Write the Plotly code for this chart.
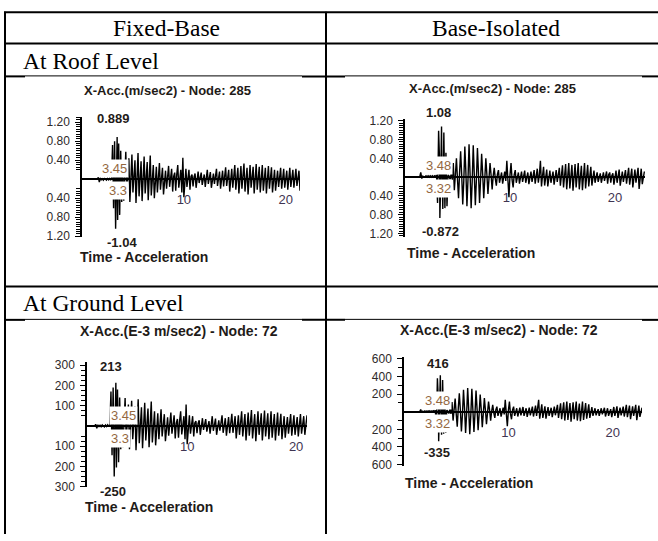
import plotly.graph_objects as go

W, H = 658, 541
DT = 0.1  # sampling step of the plotted histories, s

# ---- Roof level, fixed base: X-Acc. (m/sec2), node 285, t = 0.0 ... 21.4 s
roof_fixed_acc = [
    0, 0, 0, 0, 0, 0, 0, 0, 0, 0,
    0, 0, 0, 0, 0, 0, 0.04, -0.06, 0.03, -0.02,
    0.01, -0.02, 0.02, 0, -0.02, 0.02, -0.01, 0.02, -0.02, 0.03,
    0.72, -0.61, 0.80, -1.04, -0.15, -0.86, 0.75, -0.75, 0.60, -0.48,
    0.22, -0.45, 0.15, 0.58, -0.30, 0.08, 0.44, -0.48, 0.20, 0.52,
    -0.28, 0.12, 0.40, -0.50, 0.05, 0.55, -0.36, 0.18, 0.38, -0.46,
    0.10, 0.48, -0.30, 0.02, 0.36, -0.44, 0.12, 0.50, -0.34, 0.06,
    0.30, -0.40, 0.10, 0.26, -0.28, 0.02, 0.34, -0.22, 0.12, 0.24,
    -0.32, 0.04, 0.18, -0.20, 0.10, 0.28, -0.16, 0.02, 0.22, -0.26,
    0.06, 0.14, -0.24, 0.10, 0.30, -0.18, 0.05, 0.20, -0.28, 0.45,
    -0.38, 0.08, 0.22, -0.16, 0.02, 0.20, -0.22, 0.06, 0.10, -0.15,
    0.05, 0.12, -0.18, 0.03, 0.16, -0.08, 0.06, 0.14, -0.12, 0.02,
    0.10, -0.16, 0.05, 0.20, -0.10, 0.02, 0.15, -0.18, 0.04, 0.12,
    -0.10, 0.06, 0.22, -0.14, 0.02, 0.16, -0.20, 0.08, 0.18, -0.15,
    0.06, 0.25, -0.14, 0.03, 0.20, -0.26, 0.08, 0.22, -0.18, 0.05,
    0.30, -0.22, 0.04, 0.24, -0.30, 0.10, 0.28, -0.20, 0.02, 0.33,
    -0.26, 0.08, 0.24, -0.32, 0.05, 0.30, -0.18, 0.10, 0.26, -0.30,
    0.02, 0.32, -0.22, 0.08, 0.26, -0.28, 0.04, 0.30, -0.24, 0.06,
    0.24, -0.30, 0.10, 0.28, -0.20, 0.04, 0.25, -0.28, 0.08, 0.20,
    -0.24, 0.06, 0.18, -0.16, 0.10, 0.24, -0.20, 0.03, 0.22, -0.18,
    0.08, 0.18, -0.22, 0.04, 0.24, -0.16, 0.06, 0.20, -0.18, 0.10,
    0.22, -0.14, 0.06, 0.18, -0.24,
]
roof_fixed_max = (3.45, 0.889)
roof_fixed_min = (3.3, -1.04)

# ---- Roof level, base isolated: X-Acc. (m/sec2), node 285, t = 0.0 ... 22.8 s
roof_iso_acc = [
    0, 0, 0, 0, 0, 0, 0, 0, 0, 0,
    0, 0, 0, 0, 0, 0.10, -0.03, 0.02, 0, 0.01,
    0.03, 0, 0.03, 0, 0.03, 0, 0.03, 0, 0.03, 0.01,
    0.05, -0.55, 0.99, 0.30, -0.10, 0.50, -0.68, 0.95, -0.66, 0.52,
    -0.62, 0.05, 0.02, -0.05, 0.08, -0.06, 0.30, -0.28, 0.05, 0.40,
    -0.05, -0.45, 0.10, 0.55, 0.05, -0.58, -0.08, 0.65, 0.10, -0.62,
    -0.05, 0.70, 0.06, -0.66, -0.10, 0.68, 0.05, -0.60, -0.06, 0.62,
    0.08, -0.55, -0.05, 0.50, 0.06, -0.45, -0.04, 0.40, 0.05, -0.36,
    -0.03, 0.30, 0.04, -0.26, 0.02, 0.20, -0.03, -0.18, 0.06, 0.15,
    -0.12, 0.02, 0.10, -0.14, 0.04, 0.12, -0.08, 0.35, -0.05, -0.43,
    0.04, 0.30, -0.06, -0.22, 0.05, 0.15, -0.12, 0.03, 0.10, -0.14,
    0.02, 0.12, -0.10, 0.04, 0.14, -0.12, 0.03, 0.10, -0.15, 0.02,
    0.12, -0.10, 0.05, 0.15, -0.14, 0.02, 0.18, -0.12, 0.05, 0.35,
    -0.20, 0.03, 0.22, -0.18, 0.05, 0.16, -0.20, 0.02, 0.14, -0.12,
    0.05, 0.12, -0.16, 0.03, 0.15, -0.10, 0.06, 0.20, -0.18, 0.03,
    0.25, -0.22, 0.02, 0.28, -0.26, 0.05, 0.30, -0.24, 0.04, 0.26,
    -0.29, 0.03, 0.28, -0.22, 0.06, 0.30, -0.26, 0.02, 0.24, -0.28,
    0.05, 0.30, -0.24, 0.03, 0.26, -0.20, 0.04, 0.22, -0.18, 0.05,
    0.14, -0.12, 0.03, 0.10, -0.10, 0.02, 0.08, -0.12, 0.04, 0.10,
    -0.08, 0.02, 0.12, -0.14, 0.05, 0.10, -0.12, 0.03, 0.08, -0.16,
    0.04, 0.14, -0.12, 0.02, 0.16, -0.18, 0.05, 0.12, -0.10, 0.03,
    0.15, -0.14, 0.06, 0.20, -0.16, 0.02, 0.18, -0.22, 0.05, 0.16,
    -0.12, 0.03, 0.20, -0.25, 0.06, 0.18, -0.15, 0.04, 0.12,
]
roof_iso_max = (3.48, 1.08)
roof_iso_min = (3.32, -0.872)

# ---- Ground level, fixed base: X-Acc. (E-3 m/sec2), node 72, t = 0.0 ... 21.0 s
ground_fixed_acc = [
    0, 0, 0, 0, 0, 0, 0, 0, 0, 0,
    0, 0, 0, 0, 0, 0, 8, -12, 6, -5,
    3, -4, 5, 0, -5, 4, -3, 5, -4, 6,
    170, -145, 190, -250, -35, -205, 180, -180, 140, -115,
    55, -105, 35, 138, -72, 18, 105, -115, 48, 124,
    -66, 28, 96, -120, 12, 132, -86, 42, 92, -110,
    24, 114, -72, 5, 86, -105, 28, 120, -82, 14,
    72, -96, 24, 62, -66, 5, 82, -52, 28, 58,
    -76, 10, 42, -48, 24, 66, -38, 5, 52, -62,
    14, 34, -58, 24, 72, -42, 12, 48, -66, 105,
    -90, 18, 52, -38, 5, 48, -52, 14, 24, -36,
    12, 28, -44, 8, 38, -20, 14, 34, -28, 5,
    24, -38, 12, 48, -24, 5, 36, -44, 10, 28,
    -24, 14, 52, -34, 5, 38, -48, 18, 44, -36,
    14, 60, -34, 8, 48, -62, 18, 52, -44, 12,
    72, -52, 10, 58, -72, 24, 66, -48, 5, 78,
    -62, 18, 58, -76, 12, 72, -44, 24, 62, -72,
    5, 76, -52, 18, 62, -66, 10, 72, -58, 14,
    58, -72, 24, 66, -48, 10, 60, -66, 18, 48,
    -58, 14, 44, -38, 24, 58, -48, 8, 52, -44,
    18, 44, -52, 10, 58, -38, 14, 48, -44, 24,
    52,
]
ground_fixed_max = (3.45, 213)
ground_fixed_min = (3.3, -250)

# ---- Ground level, base isolated: X-Acc. (E-3 m/sec2), node 72, t = 0.0 ... 22.8 s
ground_iso_acc = [
    0, 0, 0, 0, 0, 0, 0, 0, 0, 0,
    0, 0, 0, 0, 0, 0, 25, -8, 6, 0,
    10, 0, 10, 0, 12, 0, 10, 0, 12, 4,
    18, -180, 380, 110, -40, 190, -260, 360, -250, 200,
    -240, 20, 8, -20, 30, -25, 110, -100, 20, 150,
    -20, -170, 40, 210, 20, -225, -30, 250, 38, -240,
    -20, 270, 24, -255, -38, 262, 20, -230, -24, 240,
    30, -210, -20, 195, 24, -175, -16, 155, 20, -140,
    -12, 115, 16, -100, 8, 78, -12, -70, 24, 58,
    -46, 8, 40, -55, 16, 46, -30, 135, -20, -165,
    16, 116, -24, -85, 20, 58, -46, 12, 40, -54,
    8, 46, -40, 16, 54, -46, 12, 40, -58, 8,
    46, -40, 20, 58, -54, 8, 70, -46, 20, 135,
    -78, 12, 85, -70, 20, 62, -78, 8, 54, -46,
    20, 46, -62, 12, 58, -40, 24, 78, -70, 12,
    96, -85, 8, 108, -100, 20, 116, -92, 16, 100,
    -112, 12, 108, -85, 24, 116, -100, 8, 92, -108,
    20, 116, -92, 12, 100, -78, 16, 85, -70, 20,
    54, -46, 12, 40, -40, 8, 30, -46, 16, 40,
    -30, 8, 46, -54, 20, 40, -46, 12, 30, -62,
    16, 54, -46, 8, 62, -70, 20, 46, -40, 12,
    58, -54, 24, 78, -62, 8, 70, -85, 20, 62,
    -46, 12, 78, -96, 24, 70, -58, 16, 46,
]
ground_iso_max = (3.48, 416)
ground_iso_min = (3.32, -335)

# Axis tick values
roof_ticks = [1.2, 0.8, 0.4, -0.4, -0.8, -1.2]
ground_fixed_ticks = [300, 200, 100, -100, -200, -300]
ground_iso_ticks = [600, 400, 200, -200, -400, -600]
time_ticks = [10, 20]

column_heads = ["Fixed-Base", "Base-Isolated"]
row_heads = ["At Roof Level", "At Ground Level"]
panel_titles = [
    "X-Acc.(m/sec2) - Node: 285",
    "X-Acc.(m/sec2) - Node: 285",
    "X-Acc.(E-3 m/sec2) - Node: 72",
    "X-Acc.(E-3 m/sec2) - Node: 72",
]
x_caption = "Time - Acceleration"


def history(acc, peaks):
    """Time/value pairs on the sampling grid with the peak samples merged in."""
    pts = {round(i * DT, 2): v for i, v in enumerate(acc)}
    for t, v in peaks:
        pts[round(t, 2)] = v
    ts = sorted(pts)
    return ts, [pts[t] for t in ts]


def fx(x):
    return x / W


def fy(y):
    return 1 - y / H


SANS = "Liberation Sans, Arial, sans-serif"
SERIF = "Liberation Serif, Times New Roman, serif"
INK = "#1f1b18"
TIME_INK = "#94683f"
TICK_INK = "#2e2a2a"
XTICK_INK = "#3f3552"

# Panel geometry in page pixels
panels = [
    dict(acc=roof_fixed_acc, pmax=roof_fixed_max, pmin=roof_fixed_min,
         ticks=roof_ticks, fmt="{:.2f}", minor_step=0.05, minor_gap=0.2,
         x0=82, x1=300, xr=[0, 21.4], y0=115, y1=237, yr=[-1.21, 1.30], zero=178.3,
         title=(167, 87, 13), vmax=(113, 116), tmax=(114, 167), tmin=(118, 190),
         vmin=(122, 243), cap=(144, 258)),
    dict(acc=roof_iso_acc, pmax=roof_iso_max, pmin=roof_iso_min,
         ticks=roof_ticks, fmt="{:.2f}", minor_step=0.05, minor_gap=0.2,
         x0=405, x1=645, xr=[0, 22.86], y0=117, y1=237, yr=[-1.27, 1.23], zero=176,
         title=(492, 85, 13), vmax=(438, 110), tmax=(438, 164), tmin=(438, 188),
         vmin=(440, 232), cap=(471, 254)),
    dict(acc=ground_fixed_acc, pmax=ground_fixed_max, pmin=ground_fixed_min,
         ticks=ground_fixed_ticks, fmt="{:.0f}", minor_step=25, minor_gap=50,
         x0=87, x1=307, xr=[0.8, 21.0], y0=365, y1=493, yr=[-302, 316], zero=431,
         title=(179, 333, 14), vmax=(111, 370), tmax=(123, 420), tmin=(120, 443),
         vmin=(113, 498), cap=(149, 513)),
    dict(acc=ground_iso_acc, pmax=ground_iso_max, pmin=ground_iso_min,
         ticks=ground_iso_ticks, fmt="{:.0f}", minor_step=100, minor_gap=100,
         x0=404, x1=642, xr=[0, 22.8], y0=360, y1=471, yr=[-611, 622], zero=416,
         title=(499, 332, 14), vmax=(438, 367), tmax=(437, 404), tmin=(437, 428),
         vmin=(437, 458), cap=(469, 489)),
]

fig = go.Figure()
annotations = []
layout_axes = {}


def note(text, x, y, size, color=INK, bold=False, family=SANS, xanchor="center",
         boxed=False):
    annotations.append(dict(
        text=text, x=fx(x), y=fy(y), xref="paper", yref="paper",
        xanchor=xanchor, yanchor="middle", showarrow=False,
        bgcolor="white" if boxed else "rgba(0,0,0,0)", borderpad=1,
        font=dict(family=family, size=size, color=color,
                  weight="bold" if bold else "normal"),
    ))


for i, p in enumerate(panels, start=1):
    sfx = "" if i == 1 else str(i)
    t, a = history(p["acc"], [p["pmax"], p["pmin"]])
    fig.add_trace(go.Scatter(
        x=t, y=a, mode="lines", xaxis="x" + sfx, yaxis="y" + sfx,
        line=dict(color="black", width=1.4), hoverinfo="skip", showlegend=False,
    ))

    lo, hi = p["yr"]
    step = p["minor_step"]
    n_lo = int(round(lo / step))
    n_hi = int(round(hi / step))
    minor_vals = [round(k * step, 4) for k in range(n_lo, n_hi + 1)
                  if abs(k * step) >= p["minor_gap"] - 1e-9]

    layout_axes["xaxis" + sfx] = dict(
        domain=[fx(p["x0"]), fx(p["x1"])], range=p["xr"], anchor="free",
        position=fy(p["zero"]), showline=False, showgrid=False, zeroline=False,
        ticks="", tickmode="array", tickvals=time_ticks, ticklabelstandoff=11,
        tickfont=dict(family=SANS, size=13, color=XTICK_INK), fixedrange=True,
    )
    layout_axes["yaxis" + sfx] = dict(
        domain=[fy(p["y1"]), fy(p["y0"])], range=p["yr"], anchor="x" + sfx,
        showline=True, linecolor="black", linewidth=1.5, showgrid=False,
        zeroline=True, zerolinecolor="black", zerolinewidth=1.5,
        ticks="outside", ticklen=5, tickwidth=1, tickcolor="black",
        tickmode="array", tickvals=p["ticks"],
        ticktext=[p["fmt"].format(abs(v)) for v in p["ticks"]],
        tickfont=dict(family=SANS, size=12, color=TICK_INK), ticklabelstandoff=3,
        minor=dict(tickmode="array", tickvals=minor_vals, ticks="outside",
                   ticklen=4, tickwidth=1, tickcolor="black"),
        fixedrange=True,
    )

    tx, ty, ts = p["title"]
    note(panel_titles[i - 1], tx, ty, ts, bold=True)
    note(f"{p['pmax'][1]:g}", *p["vmax"], 13, bold=True, boxed=True)
    note(f"{p['pmax'][0]:g}", *p["tmax"], 13, color=TIME_INK, boxed=True)
    note(f"{p['pmin'][0]:g}", *p["tmin"], 13, color=TIME_INK, boxed=True)
    note(f"{p['pmin'][1]:g}", *p["vmin"], 13, bold=True, boxed=True)
    note(x_caption, *p["cap"], 14, bold=True)

# Table headings
note(column_heads[0], 166, 24, 23.5, color="black", family=SERIF)
note(column_heads[1], 496, 24, 23.5, color="black", family=SERIF)
note(row_heads[0], 21, 57, 23.5, color="black", family=SERIF, xanchor="left")
note(row_heads[1], 21, 305, 23.5, color="black", family=SERIF, xanchor="left")

# Table rules
shapes = []


def rule(x0, y0, x1, y1, w=2):
    shapes.append(dict(type="line", xref="paper", yref="paper",
                       x0=fx(x0), y0=fy(y0), x1=fx(x1), y1=fy(y1),
                       line=dict(color="black", width=w)))


rule(5, 7, 5, H)
rule(326, 7, 326, H)
rule(4, 7.5, W, 7.5)
rule(4, 39.5, W, 39.5)
rule(4, 288, W, 288)
for y in (73, 322):
    rule(4, y, 25, y)
    rule(25, y - 0.5, 302, y - 0.5, 1)
    rule(302, y, 345, y)
    rule(345, y - 0.5, 642, y - 0.5, 1)
    rule(642, y, W, y)

fig.update_layout(
    width=W, height=H, margin=dict(l=0, r=0, t=0, b=0),
    paper_bgcolor="white", plot_bgcolor="white", showlegend=False,
    annotations=annotations, shapes=shapes, **layout_axes,
)

fig.write_html("out.html")
